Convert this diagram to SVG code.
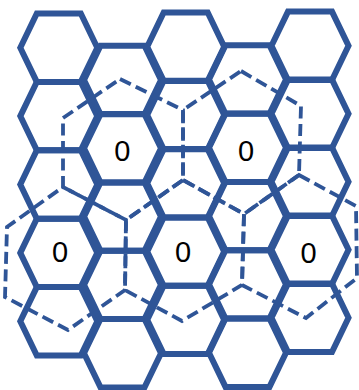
<svg xmlns="http://www.w3.org/2000/svg" xmlns:xlink="http://www.w3.org/1999/xlink" width="359" height="390" viewBox="0 0 359 390">
<style>
.cell{fill:none;stroke:#2F5597;stroke-width:6;stroke-linejoin:miter}
.big{fill:none;stroke:#2F5597;stroke-width:3.8;stroke-dasharray:12 5.5}
.lbl{font-family:"Liberation Sans",Arial,sans-serif;font-size:29px;fill:#000;text-anchor:middle}
</style>
<defs>
<polygon id="hex" points="-38.5,0 -22,-34.2 22,-34.2 38.5,0 22,34.2 -22,34.2"/>
</defs>
<rect width="359" height="390" fill="#fff"/>
<g id="clusters">
<polygon id="clusterA" class="big" points="120,79 183,110 183,180 126,220 63,187 63,118"/>
<polygon id="clusterB" class="big" points="241,71 301,106 299,175 244,214 183,180 183,110"/>
<polygon id="clusterC" class="big" points="63,187 126,220 125,290 68,330 5,297 7,227"/>
<polygon id="clusterD" class="big" points="183,180 244,214 242,285 182,321 125,290 126,220"/>
<polygon id="clusterE" class="big" points="299,175 356,206 357,278 306,318 242,285 244,214"/>
</g>
<g id="grid">
<g id="c1r1"><use xlink:href="#hex" href="#hex" class="cell" x="58.8" y="47.7"/></g>
<g id="c1r2"><use xlink:href="#hex" href="#hex" class="cell" x="58.8" y="116.1"/></g>
<g id="c1r3"><use xlink:href="#hex" href="#hex" class="cell" x="58.8" y="184.5"/></g>
<g id="c1r4"><use xlink:href="#hex" href="#hex" class="cell" x="58.8" y="252.9"/></g>
<g id="c1r5"><use xlink:href="#hex" href="#hex" class="cell" x="58.8" y="321.3"/></g>
<g id="c2r1"><use xlink:href="#hex" href="#hex" class="cell" x="122.5" y="80"/></g>
<g id="c2r2"><use xlink:href="#hex" href="#hex" class="cell" x="122.5" y="148.3"/></g>
<g id="c2r3"><use xlink:href="#hex" href="#hex" class="cell" x="122.5" y="216.6"/></g>
<g id="c2r4"><use xlink:href="#hex" href="#hex" class="cell" x="122.5" y="284.9"/></g>
<g id="c2r5"><use xlink:href="#hex" href="#hex" class="cell" x="122.5" y="353.2"/></g>
<g id="c3r1"><use xlink:href="#hex" href="#hex" class="cell" x="185.7" y="46.7"/></g>
<g id="c3r2"><use xlink:href="#hex" href="#hex" class="cell" x="185.7" y="115"/></g>
<g id="c3r3"><use xlink:href="#hex" href="#hex" class="cell" x="185.7" y="183.3"/></g>
<g id="c3r4"><use xlink:href="#hex" href="#hex" class="cell" x="185.7" y="251.6"/></g>
<g id="c3r5"><use xlink:href="#hex" href="#hex" class="cell" x="185.7" y="319.9"/></g>
<g id="c4r1"><use xlink:href="#hex" href="#hex" class="cell" x="247.5" y="79.5"/></g>
<g id="c4r2"><use xlink:href="#hex" href="#hex" class="cell" x="247.5" y="147.8"/></g>
<g id="c4r3"><use xlink:href="#hex" href="#hex" class="cell" x="247.5" y="216.1"/></g>
<g id="c4r4"><use xlink:href="#hex" href="#hex" class="cell" x="247.5" y="284.4"/></g>
<g id="c4r5"><use xlink:href="#hex" href="#hex" class="cell" x="247.5" y="352.7"/></g>
<g id="c5r1"><use xlink:href="#hex" href="#hex" class="cell" x="310" y="45.8"/></g>
<g id="c5r2"><use xlink:href="#hex" href="#hex" class="cell" x="310" y="113.8"/></g>
<g id="c5r3"><use xlink:href="#hex" href="#hex" class="cell" x="310" y="181.8"/></g>
<g id="c5r4"><use xlink:href="#hex" href="#hex" class="cell" x="310" y="249.8"/></g>
<g id="c5r5"><use xlink:href="#hex" href="#hex" class="cell" x="310" y="317.8"/></g>
</g>
<g id="labels">
<text class="lbl" x="122.2" y="161.4">0</text>
<text class="lbl" x="246" y="161.4">0</text>
<text class="lbl" x="60" y="262">0</text>
<text class="lbl" x="183" y="262.4">0</text>
<text class="lbl" x="308.5" y="263">0</text>
</g>
</svg>
